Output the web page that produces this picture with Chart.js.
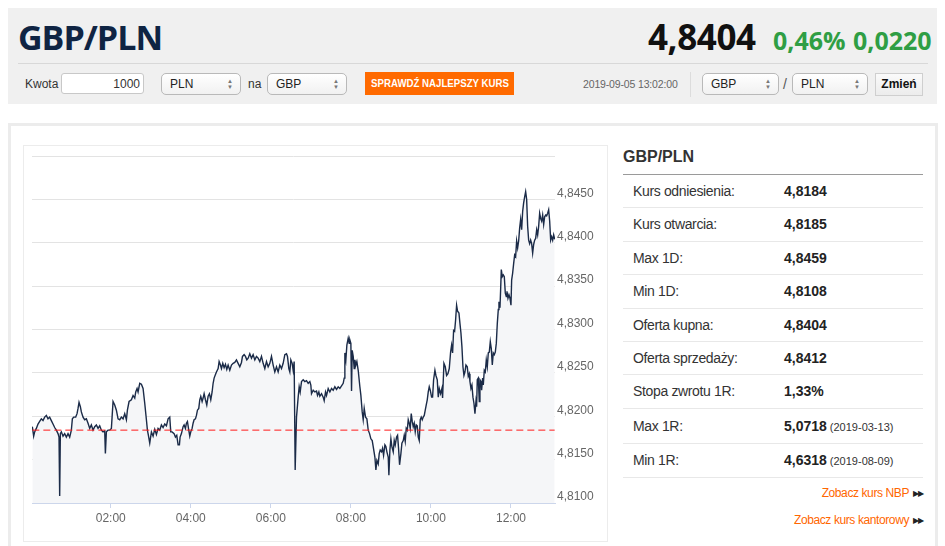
<!DOCTYPE html>
<html>
<head>
<meta charset="utf-8">
<script src="https://cdn.jsdelivr.net/npm/chart.js@4.4.1/dist/chart.umd.min.js"></script>
<style>
  html, body { margin:0; padding:0; background:#fff; }
  body { width:945px; height:546px; overflow:hidden; position:relative; font-family:"Liberation Sans", Arial, sans-serif; color:#333; }
  .abs { position:absolute; }
  #top { left:8px; top:8px; width:929px; height:96px; background:#f0f0f0; }
  #title { left:18px; top:14px; font-family:"Open Sans", sans-serif; font-weight:700; font-size:34px; color:#0f2443; letter-spacing:-1px; line-height:46px; }
  #rate { left:648px; top:14px; font-family:"Open Sans", sans-serif; font-weight:700; font-size:35px; color:#111; letter-spacing:-0.4px; line-height:46px; }
  .green { font-family:"Open Sans", sans-serif; font-weight:700; font-size:25px; color:#2f9e44; line-height:46px; top:17px; }
  #divider { left:18px; top:63px; width:910px; height:1px; background:#d8d8d8; }
  .lbl { font-size:12px; color:#333; top:77px; }
  .box { top:73px; height:21px; background:#fff; border:1px solid #c8c8c8; border-radius:3px; font-size:12px; line-height:21px; box-sizing:border-box; }
  .sel { top:73px; height:22px; border:1px solid #b9b9b9; border-radius:5px; background:linear-gradient(#ffffff,#f1f1f1); font-size:12px; line-height:20px; padding-left:8px; box-sizing:border-box; color:#222; }
  .sel .arr { position:absolute; right:7px; top:4px; font-size:6px; line-height:6px; color:#777; }
  #btn { left:365px; top:72px; width:149px; height:23px; background:#ff6a00; overflow:hidden; }
  #btn span { position:absolute; left:50%; top:0; white-space:nowrap; color:#fff; font-weight:700; font-size:11.5px; line-height:23px; transform:translateX(-50%) scaleX(0.84); transform-origin:center; }
  #date { left:583px; top:78px; font-size:10.5px; color:#666; letter-spacing:-0.15px; }
  #vdiv { left:690px; top:72px; width:1px; height:25px; background:#dcdcdc; }
  #zmien { left:875px; top:73px; width:48px; height:23px; background:linear-gradient(#fafafa,#ececec); border:1px solid #cfcfcf; box-sizing:border-box; font-weight:700; font-size:12px; line-height:21px; text-align:center; color:#111; }
  #panel { left:8px; top:123px; width:930px; height:440px; border:3px solid #ececec; box-sizing:border-box; }
  #chartbox { left:23px; top:145px; width:585px; height:397px; border:1px solid #ececec; box-sizing:border-box; }
  #chartWrap { left:24px; top:146px; width:576px; height:394px; }
  #thead { left:623px; top:148px; font-weight:700; font-size:16px; color:#333; }
  #tline { left:623px; top:174px; width:300px; height:1px; background:#9a9a9a; }
  .row { left:623px; width:300px; border-bottom:1px solid #e8e8e8; box-sizing:border-box; }
  .row .k { position:absolute; left:10px; font-size:14px; letter-spacing:-0.35px; color:#333; }
  .row .v { position:absolute; left:161px; font-size:14px; font-weight:700; color:#222; }
  .row .d { font-weight:400; font-size:11px; color:#333; margin-left:3px; }
  .link { right:22px; font-size:12px; color:#ff6600; letter-spacing:-0.4px; }
  .link span { font-size:8px; letter-spacing:-1px; color:#222; margin-left:4px; vertical-align:1px; }
</style>
</head>
<body>
<div id="top" class="abs"></div>
<div id="title" class="abs">GBP/PLN</div>
<div id="rate" class="abs">4,8404</div>
<div class="abs green" style="left:773px;">0,46%</div>
<div class="abs green" style="left:853px;">0,0220</div>
<div id="divider" class="abs"></div>

<div class="abs lbl" style="left:25px;">Kwota</div>
<div class="abs box" style="left:61px;width:83px;text-align:right;padding-right:3px;">1000</div>
<div class="abs sel" style="left:161px;width:80px;">PLN<span class="arr">▲<br>▼</span></div>
<div class="abs lbl" style="left:248px;">na</div>
<div class="abs sel" style="left:267px;width:80px;">GBP<span class="arr">▲<br>▼</span></div>
<div id="btn" class="abs"><span>SPRAWDŹ NAJLEPSZY KURS</span></div>
<div id="date" class="abs">2019-09-05 13:02:00</div>
<div id="vdiv" class="abs"></div>
<div class="abs sel" style="left:702px;width:77px;">GBP<span class="arr">▲<br>▼</span></div>
<div class="abs lbl" style="left:783px;top:76px;font-size:14px;color:#555;">/</div>
<div class="abs sel" style="left:792px;width:76px;">PLN<span class="arr">▲<br>▼</span></div>
<div id="zmien" class="abs">Zmień</div>

<div id="panel" class="abs"></div>
<div id="chartbox" class="abs"></div>
<div id="chartWrap" class="abs"><canvas id="c" width="576" height="394" style="width:576px;height:394px;"></canvas></div>

<div id="thead" class="abs">GBP/PLN</div>
<div id="tline" class="abs"></div>
<div id="rows"></div>
<div class="abs link" style="top:486px;">Zobacz kurs NBP<span>▶▶</span></div>
<div class="abs link" style="top:513px;">Zobacz kurs kantorowy<span>▶▶</span></div>

<script>
// ---- data (minutes after 00:00, GBP/PLN rate) ----
const times = [
  2.5,4.5,6,8.5,11,13.5,16,18.5,21,23.5,26,28.5,31,33.5,36,38.5,41,42.5,43.5,44.5,46,48.5,51,53.5,56,58.5,
  61,62.5,64.5,67.5,69.5,71,72.5,74.5,76,78.5,81,83.5,86,88.5,91,93.5,96,98.5,101,103.5,106,108.5,111,112,113.5,116,118.5,
  121,123.5,126,128.5,131,133.5,136,138.5,141,143.5,145,147.5,151,153.5,156,157.5,159.5,161,163.5,166,168.5,171,173.5,175,176.5,178.5,
  181,183.5,186,188.5,191,193.5,196,198.5,201,203.5,206,208.5,210,212,215,217,219,221,223,224,226,228.5,230,232,233.5,235,237,238.5,
  240,242,243.5,245,247,248.5,250,252,253.5,255,257,258.5,260,262,264,266,268,270,272,273.5,275,277,278.5,281,282.5,284.5,286,288,290,292,294,296,298.5,
  301,303.5,306,308.5,311,313.5,316,317.5,320,322,324,326,328.5,331,333.5,336,338.5,341,343.5,346,348.5,351,353.5,356,358.5,
  361,363.5,366,368.5,371,373.5,376,378.5,381,383.5,385,387,388.5,390,392,393.5,395,396.5,
  398.5,401,402.5,404,406,408.5,411,413.5,416,418.5,420,421,423.5,426,428.5,430,432,433.5,436,438.5,440,442,443.5,446,448.5,451,453.5,456,458.5,
  461,463.5,466,468.5,470,471,472.5,474,476,477.5,478.5,480,481,482,483.5,485,486,487.5,489,491,493.5,495,497,498.5,500,502,504,506,508,510,512,513.5,516,517.5,519,
  521,522.5,524,526,527.5,529,531,532.5,534,536,537,538.5,540,541.5,543.5,545,546.5,548.5,550,551.5,553,555,556.5,558.5,560,561.5,563,564.5,566,567.5,569,570.5,572,573.5,575,576.5,578,579.5,
  581,582.5,584,585.5,587,588.5,590,591.5,593,594.5,596,597.5,599,601,602.5,604,606,
  607.5,609.5,611,612.5,614.5,616.5,617.5,619.5,621.5,623.5,625.5,627.5,629.5,631,632.5,634,635.5,637,638.5,640,642,643.5,645,646.5,648,649.5,
  651,652.5,654.5,656,657.5,658.5,660,661.5,663,664.5,666,667.5,668.5,669.5,671,672.5,673.5,675,676,677.5,678.5,680,681.5,683,684.5,686,687.5,689,690.5,692,693.5,695,696.5,698,699.5,
  701,702,703.5,704.5,705.5,707,708.5,710,711.5,713,714,715.5,717,718.5,720,721,722.5,724,725.5,727,728.5,730,731.5,733,734.5,736,737.5,739,740.5,742,743.5,745,746.5,748,749.5,
  751,752.5,754,755.5,757,758.5,760,761.5,763,764.5,766,767.5,769,770.5,772,773.5,775,776.5,778,779.5,781,782.5,784,785.5
];
const rates = [
  4.8188,4.8177,4.8182,4.8186,4.8191,4.8194,4.8197,4.8195,4.8199,4.8201,4.8197,4.8199,4.8195,4.8191,4.8187,4.8184,4.8180,4.8176,4.8108,4.8180,4.8182,4.8177,4.8180,4.8176,4.8180,4.8176,
  4.8184,4.8197,4.8199,4.8199,4.8203,4.8209,4.8216,4.8211,4.8205,4.8199,4.8196,4.8197,4.8192,4.8186,4.8190,4.8184,4.8188,4.8190,4.8186,4.8189,4.8184,4.8182,4.8183,4.8157,4.8182,4.8184,4.8184,
  4.8186,4.8217,4.8213,4.8207,4.8197,4.8196,4.8199,4.8197,4.8203,4.8196,4.8207,4.8217,4.8219,4.8224,4.8221,4.8228,4.8232,4.8228,4.8238,4.8237,4.8232,4.8215,4.8196,4.8184,4.8178,4.8169,
  4.8182,4.8177,4.8185,4.8179,4.8186,4.8184,4.8190,4.8187,4.8191,4.8189,4.8197,4.8199,4.8182,4.8182,4.8180,4.8176,4.8178,4.8167,4.8167,4.8176,4.8180,4.8188,4.8190,4.8186,4.8192,4.8194,4.8184,4.8177,
  4.8182,4.8186,4.8192,4.8196,4.8197,4.8201,4.8207,4.8209,4.8219,4.8223,4.8217,4.8221,4.8226,4.8219,4.8213,4.8223,4.8226,4.8219,4.8228,4.8238,4.8244,4.8248,4.8251,4.8255,4.8263,4.8259,4.8255,4.8261,4.8256,4.8260,4.8254,4.8259,4.8253,
  4.8259,4.8261,4.8262,4.8265,4.8261,4.8257,4.8262,4.8269,4.8271,4.8269,4.8265,4.8267,4.8272,4.8267,4.8271,4.8265,4.8269,4.8267,4.8263,4.8269,4.8261,4.8255,4.8263,4.8257,4.8261,
  4.8269,4.8259,4.8251,4.8257,4.8251,4.8259,4.8255,4.8261,4.8271,4.8272,4.8269,4.8255,4.8251,4.8265,4.8261,4.8253,4.8263,4.8138,
  4.8199,4.8222,4.8234,4.8228,4.8240,4.8242,4.8240,4.8241,4.8238,4.8240,4.8236,4.8226,4.8230,4.8228,4.8229,4.8224,4.8228,4.8223,4.8226,4.8222,4.8218,4.8228,4.8224,4.8232,4.8228,4.8232,4.8230,4.8234,4.8231,
  4.8234,4.8232,4.8235,4.8238,4.8244,4.8273,4.8265,4.8282,4.8290,4.8284,4.8288,4.8284,4.8229,4.8276,4.8269,4.8255,4.8265,4.8259,4.8263,4.8253,4.8234,4.8224,4.8205,4.8196,4.8209,4.8199,4.8197,4.8184,4.8180,4.8174,4.8172,4.8165,4.8153,4.8138,4.8149,
  4.8145,4.8157,4.8161,4.8159,4.8163,4.8155,4.8167,4.8165,4.8159,4.8153,4.8132,4.8161,4.8174,4.8165,4.8159,4.8172,4.8167,4.8176,4.8178,4.8163,4.8144,4.8157,4.8169,4.8172,4.8178,4.8171,4.8186,4.8184,4.8196,4.8192,4.8186,4.8203,4.8194,4.8188,4.8192,4.8182,4.8190,4.8189,
  4.8176,4.8172,4.8196,4.8199,4.8196,4.8199,4.8201,4.8207,4.8213,4.8219,4.8228,4.8234,4.8230,4.8222,4.8222,4.8242,4.8253,
  4.8247,4.8242,4.8222,4.8232,4.8226,4.8232,4.8221,4.8261,4.8257,4.8247,4.8249,4.8255,4.8274,4.8282,4.8273,4.8299,4.8298,4.8311,4.8328,4.8321,4.8319,4.8307,4.8296,4.8280,4.8257,4.8247,
  4.8251,4.8259,4.8257,4.8246,4.8249,4.8240,4.8232,4.8236,4.8222,4.8215,4.8203,4.8217,4.8211,4.8242,4.8244,4.8217,4.8242,4.8240,4.8230,4.8244,4.8236,4.8253,4.8251,4.8265,4.8257,4.8273,4.8274,4.8286,4.8278,4.8259,4.8273,4.8271,4.8274,4.8284,4.8307,
  4.8323,4.8332,4.8325,4.8346,4.8369,4.8361,4.8363,4.8361,4.8342,4.8338,4.8344,4.8336,4.8340,4.8336,4.8328,4.8357,4.8365,4.8376,4.8386,4.8384,4.8402,4.8394,4.8402,4.8417,4.8427,4.8415,4.8436,4.8446,4.8453,4.8459,4.8450,4.8419,4.8403,4.8399,4.8403,
  4.8399,4.8388,4.8398,4.8403,4.8405,4.8415,4.8409,4.8419,4.8434,4.8428,4.8425,4.8432,4.8421,4.8430,4.8432,4.8431,4.8434,4.8438,4.8425,4.8403,4.8407,4.8403,4.8409,4.8404
];
const referenceRate = 4.8184;
const xTickMinutes = [120, 240, 360, 480, 600, 720];
const yTickValues = [4.81, 4.815, 4.82, 4.825, 4.83, 4.835, 4.84, 4.845, 4.85];

const tableLabels = ["Kurs odniesienia:", "Kurs otwarcia:", "Max 1D:", "Min 1D:", "Oferta kupna:", "Oferta sprzedaży:", "Stopa zwrotu 1R:", "Max 1R:", "Min 1R:"];
const tableValues = ["4,8184", "4,8185", "4,8459", "4,8108", "4,8404", "4,8412", "1,33%", "5,0718", "4,6318"];
const tableDates  = ["", "", "", "", "", "", "", "(2019-03-13)", "(2019-08-09)"];

// ---- table ----
(function(){
  const heights = [33,34,33,34,33,33,34,35,34];
  let top = 175;
  const root = document.getElementById('rows');
  tableLabels.forEach((l, i) => {
    const h = heights[i];
    const r = document.createElement('div');
    r.className = 'abs row';
    r.style.top = top + 'px';
    r.style.height = h + 'px';
    const ty = Math.round(h/2 - 9);
    r.innerHTML = '<span class="k" style="top:' + ty + 'px">' + l + '</span>' +
      '<span class="v" style="top:' + ty + 'px">' + tableValues[i] +
      (tableDates[i] ? '<span class="d">' + tableDates[i] + '</span>' : '') + '</span>';
    root.appendChild(r);
    top += h;
  });
})();

// ---- chart ----
Chart.defaults.font.family = '"Liberation Sans", Arial, sans-serif';
const series = times.map((t, i) => ({ x: t, y: rates[i] }));
const refLine = [{ x: times[0], y: referenceRate }, { x: times[times.length - 1], y: referenceRate }];
const fmt2 = n => (n < 10 ? '0' : '') + n;

new Chart(document.getElementById('c'), {
  type: 'line',
  data: {
    datasets: [
      { data: refLine, borderColor: '#ff1a1a', borderWidth: 1, borderDash: [7, 4], pointRadius: 0, fill: false, order: 0 },
      { data: series, borderColor: '#1b2b48', borderWidth: 1.4, pointRadius: 0, tension: 0, fill: 'start', backgroundColor: '#f5f6f8', order: 1 }
    ]
  },
  options: {
    responsive: false,
    animation: false,
    events: [],
    layout: { padding: { left: 8, top: 10, right: 0, bottom: 0 } },
    plugins: { legend: { display: false }, tooltip: { enabled: false } },
    scales: {
      x: {
        type: 'linear', min: 2, max: 786,
        afterBuildTicks: s => { s.ticks = xTickMinutes.map(v => ({ value: v })); },
        afterFit: s => { s.height = 37; },
        ticks: { callback: v => fmt2(Math.round(v / 60)) + ':00', color: '#666', font: { size: 12 }, padding: 3, maxRotation: 0, autoSkip: false },
        grid: { drawOnChartArea: false, drawTicks: true, tickLength: 5, color: '#ccd6eb' },
        border: { display: true, color: '#ccd6eb', width: 1 }
      },
      y: {
        position: 'right', min: 4.81, max: 4.85,
        afterBuildTicks: s => { s.ticks = yTickValues.map(v => ({ value: v })); },
        afterFit: s => { s.width = 45; },
        ticks: { callback: v => (v >= 4.8499 ? '' : v.toFixed(4).replace('.', ',')), color: '#666', font: { size: 12 }, padding: 2, labelOffset: -6 },
        grid: { color: '#e3e3e3', drawTicks: false, lineWidth: 1 },
        border: { display: false }
      }
    }
  }
});
</script>
</body>
</html>
